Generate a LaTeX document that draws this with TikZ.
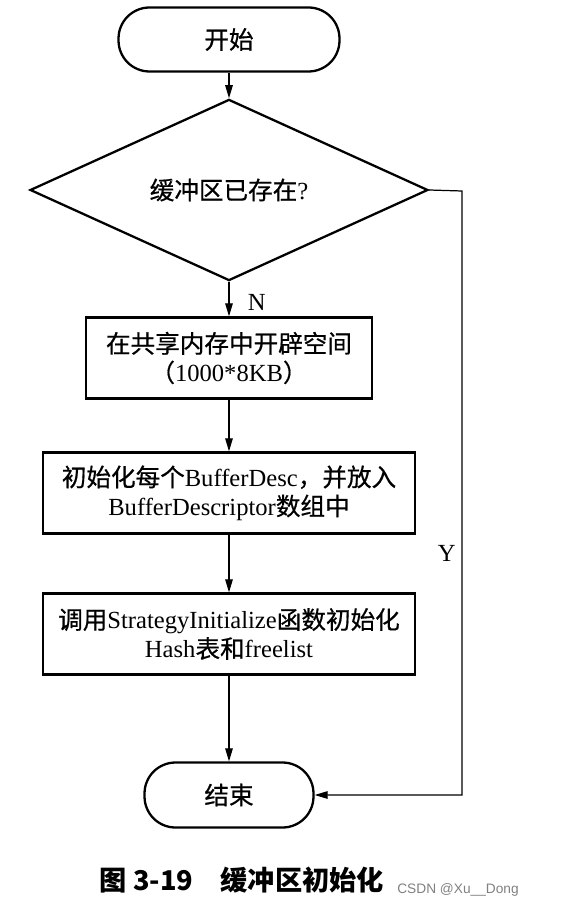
\documentclass[tikz,border=0pt]{standalone}
\usepackage{fontspec}
\setmainfont{Liberation Serif}
\newfontfamily\cjk{Noto Sans CJK SC}[FakeBold=0.6]
\newfontfamily\capfont{Noto Sans CJK SC}
\newfontfamily\wmfont{Liberation Sans}
\usetikzlibrary{shapes.geometric}
\usetikzlibrary{arrows.meta}
\newcommand{\zh}[1]{{\cjk #1}}

\tikzset{
	term/.style={draw,line width=1.3pt,rounded corners=0.62cm,minimum height=1.28cm,inner sep=0pt},
	decide/.style={draw,diamond,line width=1.3pt,minimum width=7.96cm,minimum height=2.68cm,inner sep=0pt},
	proc/.style={draw,rectangle,line width=1.3pt,minimum height=1.62cm,align=center,inner sep=0pt},
	arr/.style={-{Triangle[length=2.6mm,width=1.5mm]},line width=0.7pt},
}

\begin{document}
\begin{tikzpicture}[x=0.02cm,y=-0.02cm,every node/.style={font=\fontsize{14}{16.5}\selectfont}]
	\useasboundingbox (0,0) rectangle (566,908);
	\node[term,minimum width=4.42cm] (start) at (229,39.5) {\zh{开始}};
	\node[decide] (check) at (229,190) {\zh{缓冲区已存在}?};
	\node[proc,minimum width=5.72cm] (alloc) at (229,358) {\zh{在共享内存中开辟空间}\\\zh{（}1000*8KB\zh{）}};
	\node[proc,minimum width=7.44cm] (desc) at (229,493) {\zh{初始化每个}BufferDesc\zh{，并放入}\\BufferDescriptor\zh{数组中}};
	\node[proc,minimum width=7.44cm] (strat) at (229,634) {\zh{调用}StrategyInitialize\zh{函数初始化}\\Hash\zh{表和}freelist};
	\node[term,minimum width=3.38cm,minimum height=1.3cm] (finish) at (229,795) {\zh{结束}};
	\coordinate (ycorner) at (462,191);
	\draw[arr] (start) -- (check);
	\draw[arr] (check) -- (alloc) node[pos=0.6,right,xshift=0.25cm] {N};
	\draw[arr] (alloc) -- (desc);
	\draw[arr] (desc) -- (strat);
	\draw[arr] (strat) -- (finish);
	\draw[arr] (check.east) -- (ycorner) |- (finish.east) node[pos=0.3,left] {Y};
	\node (caption) at (242,880) {\capfont\bfseries\fontsize{15.5}{18}\selectfont 图 3-19\hspace{1em}缓冲区初始化};
	\node[text=gray] (mark) at (458,890) {\wmfont\fontsize{7.8}{10}\selectfont CSDN @Xu\_\_Dong};
\end{tikzpicture}
\end{document}
